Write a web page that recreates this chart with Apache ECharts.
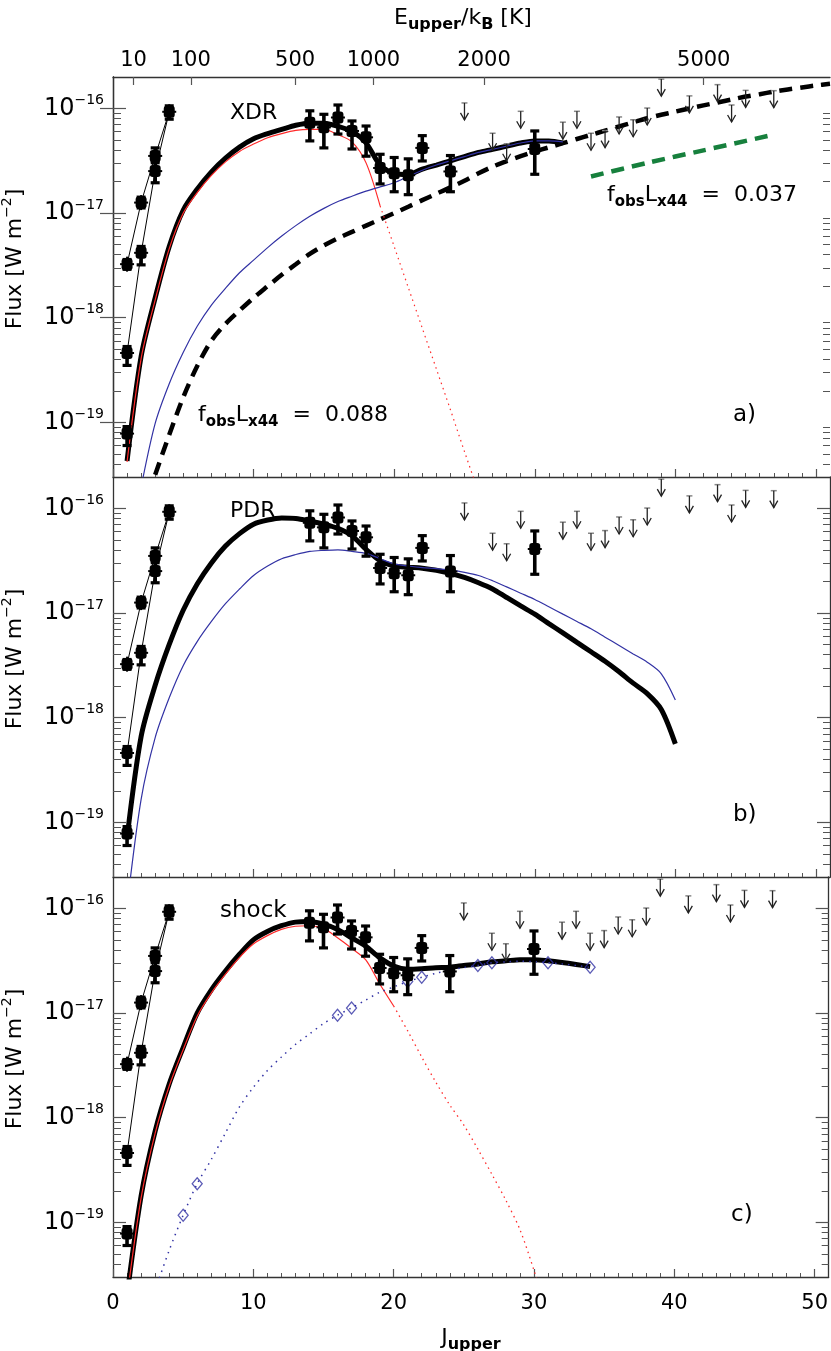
<!DOCTYPE html>
<html><head><meta charset="utf-8">
<script src="https://cdn.jsdelivr.net/npm/echarts@6/dist/echarts.min.js"></script>
<style>html,body{margin:0;padding:0;background:#fff}#c{width:831px;height:1351px}</style>
</head><body><div id="c"></div>
<script>
// ---------------- DATA ----------------
function range(a, b) { const r = []; for (let j = a; j <= b; j++) r.push(j); return r; }

// observed CO lines (J_upper, flux, error-bar lower, error-bar upper) [W m^-2]
const obsJ  = [14, 15, 16, 17, 18, 19, 20, 21, 22, 24, 30];
const obsF  = [7.3e-17, 6.6e-17, 8.2e-17, 6.1e-17, 5.3e-17, 2.7e-17, 2.4e-17, 2.3e-17, 4.2e-17, 2.5e-17, 4.1e-17];
const obsLo = [4.9e-17, 4.2e-17, 5.7e-17, 4.1e-17, 3.5e-17, 1.9e-17, 1.6e-17, 1.5e-17, 3.15e-17, 1.6e-17, 2.35e-17];
const obsHi = [9.5e-17, 8.8e-17, 1.08e-16, 7.6e-17, 6.8e-17, 3.65e-17, 3.4e-17, 3.3e-17, 5.5e-17, 3.55e-17, 6.1e-17];

// low-J points
const lowJ  = [1, 1, 1, 2, 2, 3, 3, 4];
const lowF  = [3.25e-18, 4.6e-19, 7.8e-20, 1.26e-17, 4.17e-18, 3.52e-17, 2.52e-17, 9.3e-17];
const lowLo = [2.9e-18, 3.5e-19, 6.0e-20, 1.12e-17, 3.2e-18, 3.15e-17, 1.95e-17, 7.9e-17];
const lowHi = [3.6e-18, 5.3e-19, 9.1e-20, 1.42e-17, 4.8e-18, 4.2e-17, 3.03e-17, 1.06e-16];
const lineA_J = [1, 2, 3, 4], lineA_F = [3.25e-18, 1.26e-17, 3.52e-17, 9.3e-17];
const lineB_J = [1, 2, 3, 4], lineB_F = [4.6e-19, 4.17e-18, 2.52e-17, 9.3e-17];

// upper limits
const limJ = [25, 27, 28, 29, 32, 33, 34, 35, 36, 37, 38, 39, 41, 43, 44, 45, 47];
const limF = [1.13e-16, 5.8e-17, 4.6e-17, 9.4e-17, 7.4e-17, 9.4e-17, 5.8e-17, 6.15e-17, 8.3e-17, 7.8e-17, 1.01e-16, 1.91e-16, 1.32e-16, 1.69e-16, 1.08e-16, 1.49e-16, 1.48e-16];

// (a) XDR models
const xdrTotJ = range(1, 32);
const xdrTot = [4.27e-20, 4.27e-19, 1.55e-18, 4.8e-18, 1.07e-17, 1.70e-17, 2.48e-17, 3.35e-17, 4.27e-17, 5.13e-17,
  5.75e-17, 6.31e-17, 6.92e-17, 7.24e-17, 7.24e-17, 6.76e-17, 6.03e-17, 4.68e-17, 2.88e-17, 2.40e-17,
  2.34e-17, 2.63e-17, 2.88e-17, 3.16e-17, 3.47e-17, 3.80e-17, 4.07e-17, 4.37e-17, 4.68e-17, 4.90e-17,
  4.90e-17, 4.68e-17];
const xdrRedJ = range(1, 19);
const xdrRed = [4.17e-20, 4.07e-19, 1.48e-18, 4.57e-18, 1.0e-17, 1.58e-17, 2.29e-17, 3.09e-17, 3.89e-17, 4.57e-17,
  5.25e-17, 5.75e-17, 6.17e-17, 6.31e-17, 6.31e-17, 5.62e-17, 4.79e-17, 3.02e-17, 1.17e-17];
const xdrRedDotJ = range(19, 26);
const xdrRedDot = [1.17e-17, 4.79e-18, 1.95e-18, 7.94e-19, 3.24e-19, 1.32e-19, 5.25e-20, 2.14e-20];
const xdrBlueJ = range(2, 32);
const xdrBlue = [2.4e-20, 9.77e-20, 2.34e-19, 4.68e-19, 8.32e-19, 1.32e-18, 1.91e-18, 2.69e-18, 3.55e-18, 4.68e-18,
  6.03e-18, 7.59e-18, 9.33e-18, 1.11e-17, 1.29e-17, 1.45e-17, 1.62e-17, 1.78e-17, 1.95e-17, 2.24e-17,
  2.57e-17, 2.88e-17, 3.16e-17, 3.47e-17, 3.80e-17, 4.07e-17, 4.37e-17, 4.68e-17, 4.90e-17, 4.90e-17, 4.79e-17];
const xdrDashJ = range(3, 51);
const xdrDash = [3.16e-20, 7.59e-20, 1.74e-19, 3.47e-19, 6.03e-19, 8.71e-19, 1.17e-18, 1.55e-18, 2.0e-18, 2.57e-18,
  3.24e-18, 4.07e-18, 4.90e-18, 5.75e-18, 6.61e-18, 7.59e-18, 8.71e-18, 1.0e-17, 1.15e-17, 1.33e-17,
  1.53e-17, 1.76e-17, 2.04e-17, 2.40e-17, 2.78e-17, 3.13e-17, 3.50e-17, 3.87e-17, 4.25e-17, 4.66e-17,
  5.11e-17, 5.60e-17, 6.14e-17, 6.73e-17, 7.38e-17, 8.07e-17, 8.71e-17, 9.33e-17, 1.0e-16, 1.07e-16,
  1.14e-16, 1.22e-16, 1.30e-16, 1.37e-16, 1.45e-16, 1.52e-16, 1.59e-16, 1.66e-16, 1.72e-16];
const xdrGreenJ = [34, 38, 42, 47];
const xdrGreen = [2.24e-17, 3.02e-17, 3.98e-17, 5.62e-17];

// (b) PDR models
const pdrJ = range(1, 40);
const pdrTot = [7.08e-20, 6.61e-19, 2.04e-18, 5.01e-18, 1.07e-17, 1.91e-17, 3.02e-17, 4.37e-17, 5.75e-17, 7.08e-17,
  7.76e-17, 8.13e-17, 8.04e-17, 7.59e-17, 7.08e-17, 6.46e-17, 5.50e-17, 4.07e-17, 3.16e-17, 2.82e-17,
  2.75e-17, 2.69e-17, 2.57e-17, 2.40e-17, 2.19e-17, 1.95e-17, 1.70e-17, 1.41e-17, 1.17e-17, 9.77e-18,
  7.94e-18, 6.46e-18, 5.25e-18, 4.27e-18, 3.47e-18, 2.75e-18, 2.14e-18, 1.70e-18, 1.20e-18, 5.62e-19];
const pdrBlue = [1.58e-20, 1.66e-19, 6.46e-19, 1.55e-18, 3.16e-18, 5.37e-18, 8.32e-18, 1.23e-17, 1.70e-17, 2.29e-17,
  2.82e-17, 3.31e-17, 3.63e-17, 3.89e-17, 3.98e-17, 4.03e-17, 3.89e-17, 3.72e-17, 3.31e-17, 2.95e-17,
  2.82e-17, 2.72e-17, 2.66e-17, 2.57e-17, 2.45e-17, 2.29e-17, 2.04e-17, 1.78e-17, 1.55e-17, 1.35e-17,
  1.15e-17, 9.77e-18, 8.32e-18, 7.08e-18, 5.89e-18, 4.90e-18, 4.07e-18, 3.39e-18, 2.63e-18, 1.48e-18];

// (c) shock models
const shkTotJ = range(1, 34);
const shkTot = [2.0e-20, 1.78e-19, 7.41e-19, 2.09e-18, 4.68e-18, 1.0e-17, 1.66e-17, 2.51e-17, 3.63e-17, 5.01e-17,
  6.03e-17, 6.84e-17, 7.41e-17, 7.50e-17, 7.08e-17, 6.31e-17, 5.25e-17, 4.37e-17, 3.39e-17, 2.82e-17,
  2.63e-17, 2.66e-17, 2.72e-17, 2.75e-17, 2.85e-17, 2.95e-17, 3.09e-17, 3.16e-17, 3.24e-17, 3.24e-17,
  3.16e-17, 3.05e-17, 2.92e-17, 2.78e-17];
const shkRedJ = range(1, 20);
const shkRed = [1.91e-20, 1.70e-19, 7.08e-19, 2.0e-18, 4.47e-18, 9.33e-18, 1.55e-17, 2.34e-17, 3.39e-17, 4.57e-17,
  5.50e-17, 6.31e-17, 6.76e-17, 6.84e-17, 6.46e-17, 5.25e-17, 4.17e-17, 3.24e-17, 1.91e-17, 1.17e-17];
const shkRedDotJ = range(20, 31);
const shkRedDot = [1.17e-17, 6.76e-18, 3.80e-18, 2.19e-18, 1.32e-18, 8.51e-19, 5.01e-19, 2.88e-19, 1.62e-19, 8.51e-20, 3.47e-20, 1.26e-20];
const shkBlueJ = range(3, 34);
const shkBlue = [2.24e-20, 5.37e-20, 1.17e-19, 2.34e-19, 3.98e-19, 7.08e-19, 1.26e-18, 1.95e-18, 2.82e-18, 3.80e-18,
  5.01e-18, 6.31e-18, 7.94e-18, 9.55e-18, 1.12e-17, 1.33e-17, 1.58e-17, 1.78e-17, 2.0e-17, 2.20e-17,
  2.40e-17, 2.57e-17, 2.72e-17, 2.85e-17, 3.03e-17, 3.09e-17, 3.13e-17, 3.10e-17, 3.03e-17, 2.95e-17,
  2.85e-17, 2.74e-17];
const diaJ = [5, 6, 16, 17, 21, 22, 26, 27, 31, 34];
const diaF = [1.17e-19, 2.34e-19, 9.55e-18, 1.12e-17, 2.0e-17, 2.2e-17, 2.85e-17, 3.03e-17, 3.03e-17, 2.74e-17];

// axes
const xMajor = [0, 10, 20, 30, 40, 50];
const eTickLabels = [10, 100, 500, 1000, 2000, 5000];   // E_upper/k_B [K]
const B_CO = 2.766;                                       // K, E_J = B J(J+1)
const YMIN = 3e-20, YMAX = 2e-16;

// ---------------- CHART ----------------
const FONT = 'DejaVu Sans';
const BLUE = '#3232a4', RED = '#ff2a2a', GREEN = '#17803d';
const xMinor = range(1, 49).filter(v => v % 10 !== 0);
const eTickJ = eTickLabels.map(E => (-1 + Math.sqrt(1 + 4 * E / B_CO)) / 2);
const decades = [1e-19, 1e-18, 1e-17, 1e-16];
const yMinor = [];
for (let d = -20; d <= -16; d++) for (let m = 2; m <= 9; m++) { const v = m * Math.pow(10, d); if (v > YMIN * 1.0001 && v < YMAX * 0.999) yMinor.push(v); }

const chart = echarts.init(document.getElementById('c'), null, { renderer: 'canvas', width: 831, height: 1351 });
const tops = [77, 477, 877];
const grid = tops.map(t => ({ left: 113, top: t, width: 717, height: 400 }));
const AX = '#333', TK = '#555';

const xAxis = [];
for (let i = 0; i < 3; i++) xAxis.push({
  gridIndex: i, type: 'value', min: 0, max: 51, position: 'bottom',
  axisLine: { show: true, lineStyle: { color: AX, width: 1.3 } },
  axisTick: { show: true, inside: true, length: 8, customValues: xMajor, lineStyle: { color: TK, width: 1.2 } },
  axisLabel: { show: i === 2, customValues: xMajor, fontSize: 21, fontFamily: FONT, color: '#000', margin: 16 },
  splitLine: { show: false }
});
for (let i = 0; i < 3; i++) xAxis.push({
  gridIndex: i, type: 'value', min: 0, max: 51, position: 'bottom',
  axisLine: { show: false },
  axisTick: { show: true, inside: true, length: 4, customValues: xMinor, lineStyle: { color: TK, width: 1 } },
  axisLabel: { show: false }, splitLine: { show: false }
});
xAxis.push({
  gridIndex: 0, type: 'value', min: 0, max: 51, position: 'top',
  axisLine: { show: true, lineStyle: { color: AX, width: 1.3 } },
  axisTick: { show: true, inside: true, length: 8, customValues: eTickJ, lineStyle: { color: TK, width: 1.2 } },
  axisLabel: {
    customValues: eTickJ, fontSize: 21, fontFamily: FONT, color: '#000', margin: 6,
    formatter: v => { let best = 0; eTickJ.forEach((j, k) => { if (Math.abs(j - v) < Math.abs(eTickJ[best] - v)) best = k; }); return String(eTickLabels[best]); }
  },
  splitLine: { show: false }
});

const yRich = {
  b: { fontSize: 24, fontFamily: FONT, color: '#000', lineHeight: 30, verticalAlign: 'middle' },
  s: { fontSize: 14, fontFamily: FONT, color: '#000', lineHeight: 30, verticalAlign: 'top' }
};
const yAxis = [];
for (let i = 0; i < 3; i++) {
  const base = { gridIndex: i, type: 'log', logBase: 10, min: YMIN, max: YMAX, splitLine: { show: false } };
  yAxis.push(Object.assign({}, base, {
    position: 'left', axisLine: { show: true, lineStyle: { color: AX, width: 1.3 } },
    axisTick: { show: true, inside: true, length: 13, customValues: decades, lineStyle: { color: TK, width: 1.2 } },
    axisLabel: { customValues: decades, margin: 9, rich: yRich,
      formatter: v => { const e = Math.round(Math.log10(v)); return '{b|10}{s|' + (e < 0 ? '\u2212' : '') + Math.abs(e) + '}'; } }
  }));
  yAxis.push(Object.assign({}, base, {
    position: 'left', axisLine: { show: false },
    axisTick: { show: true, inside: true, length: 8, customValues: yMinor, lineStyle: { color: TK, width: 1 } },
    axisLabel: { show: false }
  }));
  yAxis.push(Object.assign({}, base, {
    position: 'right', axisLine: { show: true, lineStyle: { color: AX, width: 1.3 } },
    axisTick: { show: true, inside: true, length: 13, customValues: decades, lineStyle: { color: TK, width: 1.2 } },
    axisLabel: { show: false }
  }));
  yAxis.push(Object.assign({}, base, {
    position: 'right', axisLine: { show: false },
    axisTick: { show: true, inside: true, length: 7, customValues: yMinor, lineStyle: { color: TK, width: 1 } },
    axisLabel: { show: false }
  }));
}

const series = [];
const P = i => ({ xAxisIndex: i, yAxisIndex: 4 * i });
function addLine(i, J, F, color, width, type, z, smooth) {
  series.push(Object.assign({
    type: 'line', data: J.map((j, k) => [j, F[k]]), symbol: 'none', showSymbol: false, smooth: smooth || false,
    lineStyle: { color: color, width: width, type: type || 'solid' }, z: z || 3, clip: true, silent: true, animation: false
  }, P(i)));
}
function renderErr(params, api) {
  const x = api.value(0);
  const c = api.coord([x, api.value(1)]);
  const lo = api.coord([x, api.value(2)]);
  const hi = api.coord([x, api.value(3)]);
  const k = '#000';
  return { type: 'group', children: [
    { type: 'line', shape: { x1: c[0], y1: lo[1], x2: c[0], y2: hi[1] }, style: { stroke: k, lineWidth: 3.6 } },
    { type: 'line', shape: { x1: c[0] - 4.5, y1: hi[1], x2: c[0] + 4.5, y2: hi[1] }, style: { stroke: k, lineWidth: 3.2 } },
    { type: 'line', shape: { x1: c[0] - 4.5, y1: lo[1], x2: c[0] + 4.5, y2: lo[1] }, style: { stroke: k, lineWidth: 3.2 } },
    { type: 'rect', shape: { x: c[0] - 5.5, y: c[1] - 6, width: 11, height: 12, r: 3 }, style: { fill: k } },
    { type: 'line', shape: { x1: c[0] - 7, y1: c[1], x2: c[0] + 7, y2: c[1] }, style: { stroke: k, lineWidth: 2 } },
    { type: 'line', shape: { x1: c[0], y1: c[1] - 7.5, x2: c[0], y2: c[1] + 7.5 }, style: { stroke: k, lineWidth: 2 } }
  ] };
}
function renderLim(params, api) {
  const c = api.coord([api.value(0), api.value(1)]);
  const x = c[0], y = c[1];
  return { type: 'group', children: [
    { type: 'line', shape: { x1: x - 3, y1: y, x2: x + 3, y2: y }, style: { stroke: '#888', lineWidth: 1.5 } },
    { type: 'line', shape: { x1: x, y1: y, x2: x, y2: y + 17 }, style: { stroke: '#222', lineWidth: 1.3 } },
    { type: 'polyline', shape: { points: [[x - 4, y + 10], [x, y + 17], [x + 4, y + 10]] }, style: { stroke: '#222', lineWidth: 1.3, fill: null } }
  ] };
}
function addObs(i) {
  addLine(i, lineA_J, lineA_F, '#000', 1, 'solid', 2);
  addLine(i, lineB_J, lineB_F, '#000', 1, 'solid', 2);
  const data = obsJ.map((j, k) => [j, obsF[k], obsLo[k], obsHi[k]]).concat(lowJ.map((j, k) => [j, lowF[k], lowLo[k], lowHi[k]]));
  series.push(Object.assign({ type: 'custom', data: data, encode: { x: 0, y: 1 }, renderItem: renderErr, z: 10, silent: true, animation: false }, P(i)));
  series.push(Object.assign({ type: 'custom', data: limJ.map((j, k) => [j, limF[k]]), encode: { x: 0, y: 1 }, renderItem: renderLim, z: 10, silent: true, animation: false }, P(i)));
}

const SM = 0.3;
// panel a
addLine(0, xdrDashJ, xdrDash, '#000', 4.5, [13, 8], 3, SM);
addLine(0, xdrGreenJ, xdrGreen, GREEN, 4.5, [13, 8], 3, SM);
addLine(0, xdrTotJ, xdrTot, '#000', 5, 'solid', 4, SM);
addLine(0, xdrRedJ, xdrRed, RED, 1.2, 'solid', 5, SM);
addLine(0, xdrRedDotJ, xdrRedDot, RED, 1.2, [1.5, 4], 5, SM);
addLine(0, xdrBlueJ, xdrBlue, BLUE, 1.2, 'solid', 5, SM);
addObs(0);
// panel b
addLine(1, pdrJ, pdrTot, '#000', 5, 'solid', 4, SM);
addLine(1, pdrJ, pdrBlue, BLUE, 1.2, 'solid', 5, SM);
addObs(1);
// panel c
addLine(2, shkTotJ, shkTot, '#000', 5, 'solid', 4, SM);
addLine(2, shkRedJ, shkRed, RED, 1.2, 'solid', 5, SM);
addLine(2, shkRedDotJ, shkRedDot, RED, 1.3, [1.5, 4], 5, SM);
addLine(2, shkBlueJ, shkBlue, BLUE, 1.5, [1.5, 5], 5, SM);
series.push(Object.assign({
  type: 'scatter', data: diaJ.map((j, k) => [j, diaF[k]]), symbol: 'diamond', symbolSize: [10, 12],
  itemStyle: { color: 'rgba(0,0,0,0)', borderColor: BLUE, borderWidth: 1.3 }, z: 6, silent: true, animation: false
}, P(2)));
addObs(2);

// texts
const mainRich = {
  m: { fontSize: 22, fontFamily: FONT, color: '#000', lineHeight: 30, verticalAlign: 'middle' },
  u: { fontSize: 16, fontFamily: FONT, fontWeight: 'bold', color: '#000', lineHeight: 30, verticalAlign: 'bottom' }
};
const annRich = (col) => ({
  m: { fontSize: 22, fontFamily: FONT, color: col, lineHeight: 30, verticalAlign: 'middle' },
  u: { fontSize: 15, fontFamily: FONT, fontWeight: 'bold', color: col, lineHeight: 30, verticalAlign: 'bottom' }
});
const fluxRich = {
  t: { fontSize: 22, fontFamily: FONT, color: '#000', lineHeight: 30, verticalAlign: 'middle' },
  s: { fontSize: 14, fontFamily: FONT, color: '#000', lineHeight: 30, verticalAlign: 'top' }
};
function txt(x, y, text, rich, align, rot) {
  return { type: 'text', x: x, y: y, rotation: rot || 0, z: 100,
    style: { text: text, rich: rich, align: align || 'left', verticalAlign: 'middle', textAlign: align || 'left', textVerticalAlign: 'middle' } };
}
const plain = (size) => ({ m: { fontSize: size, fontFamily: FONT, color: '#000' } });
const graphic = [
  txt(463, 18, '{m|E}{u|upper}{m|/k}{u|B}{m| [K]}', mainRich, 'center'),
  txt(471, 1338, '{m|J}{u|upper}', mainRich, 'center'),
  txt(230, 113, '{m|XDR}', plain(22)),
  txt(230, 511, '{m|PDR}', plain(22)),
  txt(220, 911, '{m|shock}', plain(23)),
  txt(733, 415, '{m|a)}', plain(23)),
  txt(733, 815, '{m|b)}', plain(23)),
  txt(731, 1215, '{m|c)}', plain(23)),
  txt(198, 415, '{m|f}{u|obs}{m|L}{u|x44}{m|  =  0.088}', annRich('#000')),
  txt(607, 195, '{m|f}{u|obs}{m|L}{u|x44}{m|  =  0.037}', annRich(GREEN))
];
tops.forEach(t => graphic.push(txt(15, t + 182, '{t|Flux [W m}{s|\u22122}{t|]}', fluxRich, 'center', Math.PI / 2)));

chart.setOption({
  animation: false,
  backgroundColor: '#fff',
  grid: grid, xAxis: xAxis, yAxis: yAxis, series: series, graphic: graphic
});
</script></body></html>
